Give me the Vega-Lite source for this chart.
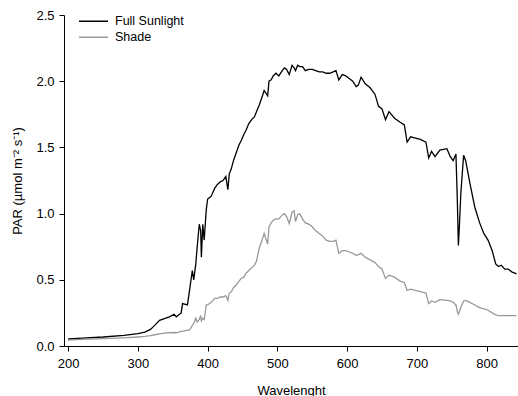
{
  "$schema": "https://vega.github.io/schema/vega-lite/v6.json",
  "width": 454,
  "height": 331,
  "autosize": {"type": "none"},
  "padding": {"left": 64, "top": 15, "right": 0, "bottom": 50},
  "background": "white",
  "config": {
    "view": {"stroke": null},
    "font": "Liberation Sans",
    "axis": {
      "grid": false,
      "domainColor": "black",
      "tickColor": "black",
      "labelColor": "black",
      "titleColor": "black",
      "labelFontSize": 13,
      "titleFontSize": 13,
      "titleFontWeight": "normal",
      "tickSize": 5,
      "domainWidth": 1,
      "tickWidth": 1
    },
    "legend": {"labelFontSize": 12.5, "labelColor": "black"}
  },
  "data": {
    "values": [
      {"w": 200, "F": 0.053, "S": 0.045},
      {"w": 220, "F": 0.060, "S": 0.050},
      {"w": 250, "F": 0.068, "S": 0.056},
      {"w": 280, "F": 0.080, "S": 0.062},
      {"w": 300, "F": 0.094, "S": 0.068},
      {"w": 310, "F": 0.105, "S": 0.072},
      {"w": 318, "F": 0.125, "S": 0.078},
      {"w": 324, "F": 0.156, "S": 0.085},
      {"w": 331, "F": 0.194, "S": 0.092},
      {"w": 338, "F": 0.207, "S": 0.097},
      {"w": 345, "F": 0.22, "S": 0.100},
      {"w": 352, "F": 0.24, "S": 0.102},
      {"w": 355, "F": 0.22, "S": 0.100},
      {"w": 362, "F": 0.25, "S": 0.110},
      {"w": 364, "F": 0.32, "S": 0.110},
      {"w": 371, "F": 0.31, "S": 0.120},
      {"w": 374, "F": 0.42, "S": 0.120},
      {"w": 378, "F": 0.57, "S": 0.156},
      {"w": 380, "F": 0.50, "S": 0.170},
      {"w": 383, "F": 0.62, "S": 0.210},
      {"w": 385, "F": 0.75, "S": 0.180},
      {"w": 388, "F": 0.92, "S": 0.200},
      {"w": 390, "F": 0.87, "S": 0.230},
      {"w": 391, "F": 0.67, "S": 0.190},
      {"w": 393, "F": 0.92, "S": 0.210},
      {"w": 395, "F": 0.80, "S": 0.200},
      {"w": 398, "F": 1.03, "S": 0.310},
      {"w": 400, "F": 1.11, "S": 0.310},
      {"w": 405, "F": 1.13, "S": 0.330},
      {"w": 410, "F": 1.19, "S": 0.360},
      {"w": 414, "F": 1.22, "S": 0.360},
      {"w": 418, "F": 1.24, "S": 0.370},
      {"w": 422, "F": 1.25, "S": 0.370},
      {"w": 426, "F": 1.28, "S": 0.380},
      {"w": 429, "F": 1.18, "S": 0.345},
      {"w": 431, "F": 1.30, "S": 0.400},
      {"w": 434, "F": 1.34, "S": 0.410},
      {"w": 437, "F": 1.40, "S": 0.440},
      {"w": 441, "F": 1.46, "S": 0.460},
      {"w": 445, "F": 1.52, "S": 0.490},
      {"w": 448, "F": 1.55, "S": 0.510},
      {"w": 452, "F": 1.60, "S": 0.520},
      {"w": 455, "F": 1.63, "S": 0.550},
      {"w": 459, "F": 1.68, "S": 0.570},
      {"w": 463, "F": 1.71, "S": 0.590},
      {"w": 467, "F": 1.73, "S": 0.610},
      {"w": 470, "F": 1.77, "S": 0.640},
      {"w": 474, "F": 1.82, "S": 0.740},
      {"w": 478, "F": 1.88, "S": 0.800},
      {"w": 481, "F": 1.93, "S": 0.850},
      {"w": 486, "F": 1.89, "S": 0.770},
      {"w": 488, "F": 2.00, "S": 0.900},
      {"w": 491, "F": 2.01, "S": 0.930},
      {"w": 494, "F": 2.04, "S": 0.950},
      {"w": 498, "F": 2.06, "S": 0.960},
      {"w": 502, "F": 2.04, "S": 0.960},
      {"w": 507, "F": 2.08, "S": 0.990},
      {"w": 510, "F": 2.10, "S": 1.000},
      {"w": 513, "F": 2.09, "S": 0.980},
      {"w": 517, "F": 2.05, "S": 0.925},
      {"w": 521, "F": 2.12, "S": 1.010},
      {"w": 524, "F": 2.10, "S": 1.020},
      {"w": 526, "F": 2.08, "S": 0.940},
      {"w": 529, "F": 2.12, "S": 0.990},
      {"w": 532, "F": 2.11, "S": 1.000},
      {"w": 536, "F": 2.11, "S": 0.960},
      {"w": 540, "F": 2.08, "S": 0.930},
      {"w": 545, "F": 2.09, "S": 0.920},
      {"w": 550, "F": 2.09, "S": 0.900},
      {"w": 555, "F": 2.08, "S": 0.870},
      {"w": 560, "F": 2.07, "S": 0.850},
      {"w": 565, "F": 2.07, "S": 0.830},
      {"w": 570, "F": 2.06, "S": 0.800},
      {"w": 575, "F": 2.06, "S": 0.790},
      {"w": 580, "F": 2.07, "S": 0.790},
      {"w": 584, "F": 2.08, "S": 0.800},
      {"w": 588, "F": 2.01, "S": 0.700},
      {"w": 593, "F": 2.05, "S": 0.720},
      {"w": 598, "F": 2.04, "S": 0.720},
      {"w": 603, "F": 2.02, "S": 0.710},
      {"w": 608, "F": 2.00, "S": 0.700},
      {"w": 613, "F": 1.96, "S": 0.685},
      {"w": 616, "F": 1.97, "S": 0.690},
      {"w": 620, "F": 2.03, "S": 0.700},
      {"w": 626, "F": 1.98, "S": 0.670},
      {"w": 633, "F": 1.95, "S": 0.650},
      {"w": 640, "F": 1.90, "S": 0.630},
      {"w": 645, "F": 1.81, "S": 0.600},
      {"w": 650, "F": 1.79, "S": 0.580},
      {"w": 655, "F": 1.71, "S": 0.510},
      {"w": 660, "F": 1.77, "S": 0.535},
      {"w": 668, "F": 1.72, "S": 0.520},
      {"w": 676, "F": 1.69, "S": 0.490},
      {"w": 682, "F": 1.67, "S": 0.480},
      {"w": 686, "F": 1.54, "S": 0.420},
      {"w": 691, "F": 1.58, "S": 0.430},
      {"w": 698, "F": 1.57, "S": 0.420},
      {"w": 705, "F": 1.56, "S": 0.410},
      {"w": 713, "F": 1.54, "S": 0.400},
      {"w": 717, "F": 1.42, "S": 0.320},
      {"w": 721, "F": 1.47, "S": 0.340},
      {"w": 726, "F": 1.43, "S": 0.330},
      {"w": 733, "F": 1.48, "S": 0.350},
      {"w": 743, "F": 1.49, "S": 0.345},
      {"w": 748, "F": 1.43, "S": 0.340},
      {"w": 752, "F": 1.40, "S": 0.330},
      {"w": 756, "F": 1.45, "S": 0.310},
      {"w": 758, "F": 1.10, "S": 0.260},
      {"w": 759.5, "F": 0.76, "S": 0.240},
      {"w": 761, "F": 0.91, "S": 0.260},
      {"w": 763, "F": 1.15, "S": 0.290},
      {"w": 767, "F": 1.44, "S": 0.340},
      {"w": 770, "F": 1.40, "S": 0.345},
      {"w": 776, "F": 1.23, "S": 0.330},
      {"w": 783, "F": 1.05, "S": 0.310},
      {"w": 790, "F": 0.93, "S": 0.290},
      {"w": 796, "F": 0.85, "S": 0.280},
      {"w": 802, "F": 0.80, "S": 0.270},
      {"w": 808, "F": 0.72, "S": 0.250},
      {"w": 813, "F": 0.62, "S": 0.235},
      {"w": 817, "F": 0.60, "S": 0.230},
      {"w": 821, "F": 0.61, "S": 0.230},
      {"w": 826, "F": 0.58, "S": 0.230},
      {"w": 831, "F": 0.58, "S": 0.230},
      {"w": 836, "F": 0.56, "S": 0.230},
      {"w": 843, "F": 0.545, "S": 0.230}
    ]
  },
  "transform": [
    {"fold": ["F", "S"], "as": ["key", "value"]},
    {"lookup": "key", "from": {"data": {"values": [{"key": "F", "series": "Full Sunlight"}, {"key": "S", "series": "Shade"}]}, "key": "key", "fields": ["series"]}}
  ],
  "mark": {"type": "line", "strokeWidth": 1.3, "clip": true, "interpolate": "linear"},
  "encoding": {
    "x": {
      "field": "w", "type": "quantitative",
      "scale": {"domain": [194, 845], "nice": false, "zero": false},
      "axis": {"title": "Wavelenght", "values": [200, 300, 400, 500, 600, 700, 800], "labelPadding": 6, "titlePadding": 14, "labelFlush": false}
    },
    "y": {
      "field": "value", "type": "quantitative",
      "scale": {"domain": [0, 2.5], "nice": false},
      "axis": {"title": "PAR (µmol m⁻² s⁻¹)", "values": [0, 0.5, 1, 1.5, 2, 2.5], "format": ".1f", "labelPadding": 5, "titlePadding": 11, "labelFlush": false}
    },
    "color": {
      "field": "series", "type": "nominal",
      "scale": {"domain": ["Full Sunlight", "Shade"], "range": ["#000000", "#999999"]},
      "legend": {
        "title": null, "orient": "none", "legendX": 14, "legendY": -0.5,
        "symbolType": "stroke", "symbolSize": 841, "symbolStrokeWidth": 1.5,
        "labelOffset": 6, "rowPadding": 2, "clipHeight": 13.3, "padding": 0
      }
    }
  }
}
